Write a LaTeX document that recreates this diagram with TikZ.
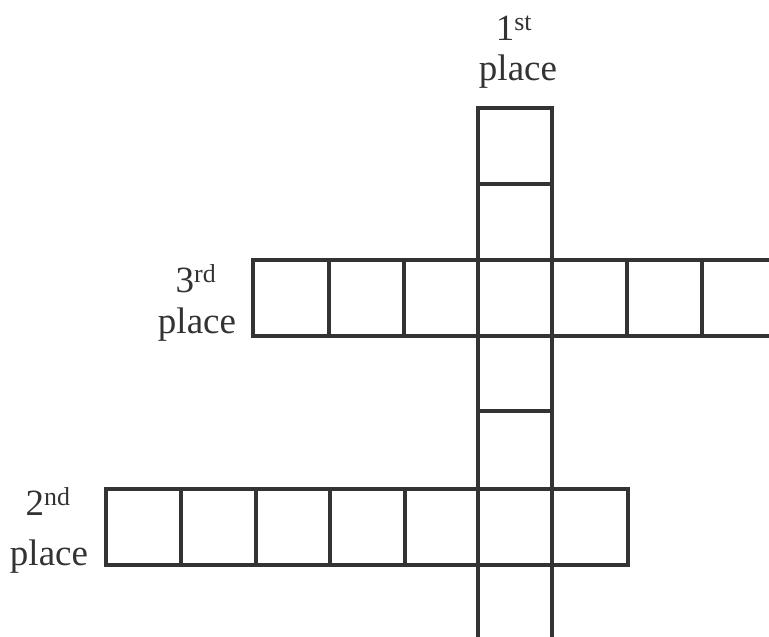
\documentclass[tikz,border=0pt]{standalone}
\usepackage{fontspec}
\setmainfont{Liberation Serif}
\definecolor{ink}{HTML}{333333}
\begin{document}
\begin{tikzpicture}[x=1pt,y=-1pt,
  grid/.style={draw=ink,line width=3.3pt,line cap=rect},
  lab/.style={inner sep=0pt,anchor=base,text=ink,font=\fontsize{37}{44}\selectfont}]
\useasboundingbox (0,0) rectangle (769,637);
% vertical column (1st place)
\draw[grid] (478,637) -- (478,108) -- (552,108) -- (552,637);
\draw[grid] (478,184) -- (552,184);
\draw[grid] (478,411) -- (552,411);
% 3rd place row
\draw[grid] (769,260) -- (253,260) -- (253,336) -- (769,336);
\foreach \x in {329,404,627,702} \draw[grid] (\x,260) -- (\x,336);
% 2nd place row
\draw[grid] (106,489) rectangle (628,565);
\foreach \x in {181,256,330,405} \draw[grid] (\x,489) -- (\x,565);
% labels
\node[lab] (firstA) at (514,40) {1\textsuperscript{st}};
\node[lab] (firstB) at (518,80) {place};
\node[lab] (thirdA) at (196,292) {3\textsuperscript{rd}};
\node[lab] (thirdB) at (197,333) {place};
\node[lab] (secondA) at (48,515) {2\textsuperscript{nd}};
\node[lab] (secondB) at (49,565) {place};
\end{tikzpicture}
\end{document}
